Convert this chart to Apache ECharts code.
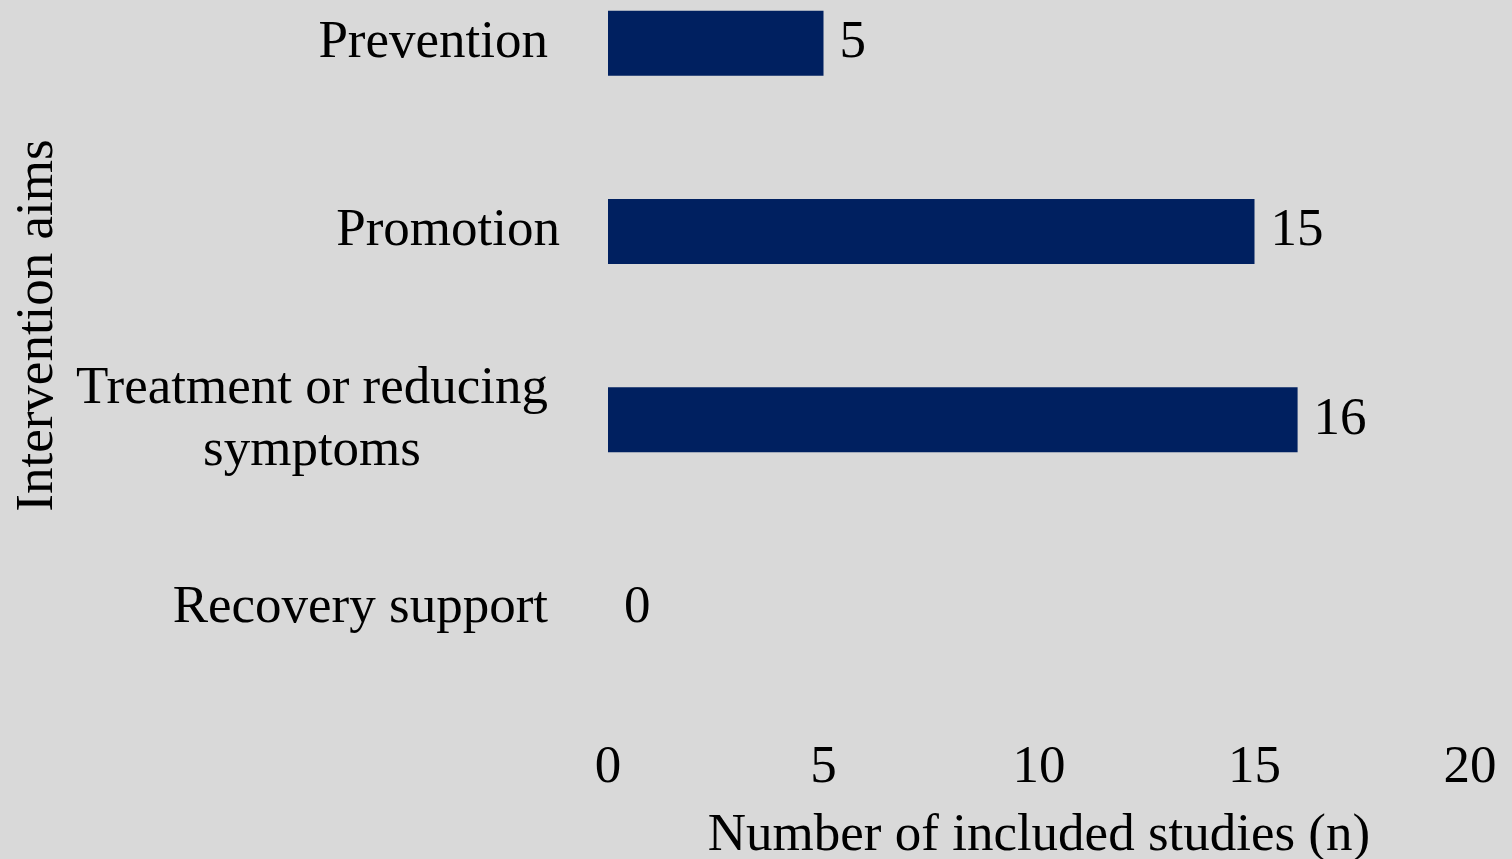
<!DOCTYPE html>
<html>
<head>
<meta charset="utf-8">
<script src="https://cdn.jsdelivr.net/npm/echarts@6/dist/echarts.min.js"></script>
<style>
  html, body { margin: 0; padding: 0; background: #d9d9d9; overflow: hidden; }
  /* the plot starts above the visible page, like the cropped original */
  #main { width: 1512px; height: 910px; margin-top: -51px; }
</style>
</head>
<body>
<div id="main"></div>
<script>
// categories from top to bottom
const aims = ['Prevention', 'Promotion', 'Treatment or reducing\nsymptoms', 'Recovery support'];
const studies = [5, 15, 16, 0];
const xTicks = [0, 5, 10, 15, 20];

const font = '"Liberation Serif", "Times New Roman", serif';
const size = 53;

const chart = echarts.init(document.getElementById('main'));
chart.setOption({
    backgroundColor: '#d9d9d9',
    textStyle: { fontFamily: font, color: '#000' },
    grid: { left: 608, right: 42, top: 0, bottom: 157, containLabel: false, outerBoundsMode: 'none' },
    xAxis: {
        type: 'value',
        min: xTicks[0],
        max: xTicks[xTicks.length - 1],
        interval: 5,
        splitLine: { show: false },
        axisLine: { show: false },
        axisTick: { show: false },
        axisLabel: { fontFamily: font, fontSize: size, color: '#000', margin: 40 },
        name: 'Number of included studies (n)',
        nameLocation: 'middle',
        nameGap: 108,
        nameTextStyle: { fontFamily: font, fontSize: size, color: '#000' }
    },
    yAxis: {
        type: 'category',
        data: aims,
        inverse: true,
        axisLine: { show: false },
        axisTick: { show: false },
        axisLabel: {
            fontFamily: font, fontSize: size, color: '#000', margin: 48, lineHeight: 62,
            // Promotion sits a little further right in the original
            formatter: v => v.split('\n').map(s => (v === 'Promotion' ? '{p|' : '{c|') + s + '}').join('\n'),
            rich: {
                c: { fontFamily: font, fontSize: size, color: '#000', align: 'center', lineHeight: 62, padding: [0, 12, 0, 0] },
                p: { fontFamily: font, fontSize: size, color: '#000', align: 'center', lineHeight: 62 }
            }
        },
        name: 'Intervention aims',
        nameLocation: 'middle',
        nameGap: 543,
        nameRotate: 90,
        nameTextStyle: { fontFamily: font, fontSize: size, color: '#000' }
    },
    series: [{
        type: 'bar',
        data: studies,
        barWidth: 65,
        itemStyle: { color: '#002060' },
        label: {
            show: true,
            position: 'right',
            distance: 16,
            fontFamily: font,
            fontSize: size,
            color: '#000'
        }
    }]
});
</script>
</body>
</html>
